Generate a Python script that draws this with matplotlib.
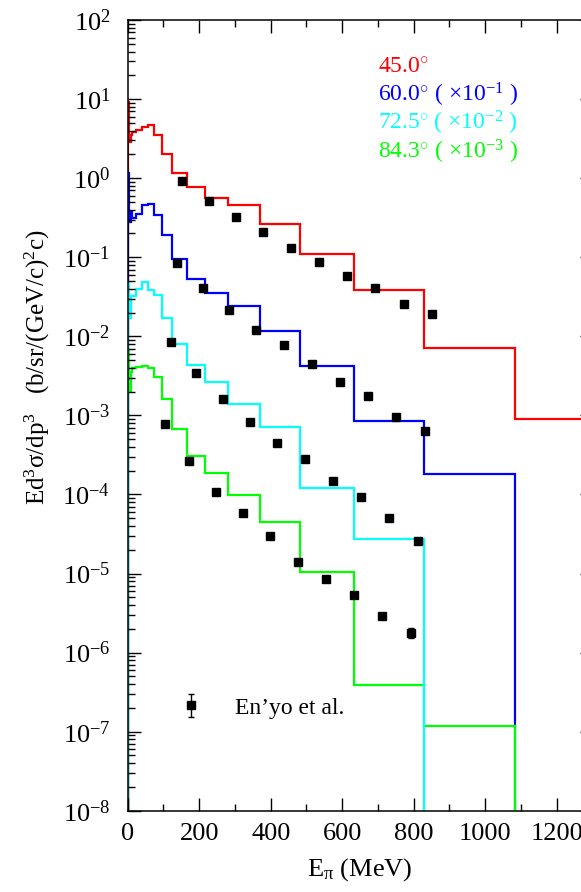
import numpy as np
from matplotlib import pyplot as plt
from matplotlib.ticker import MultipleLocator, LogLocator

plt.rcParams['font.family'] = ['Liberation Serif', 'DejaVu Serif']
plt.rcParams['mathtext.fontset'] = 'custom'
plt.rcParams['mathtext.rm'] = 'Liberation Serif'
plt.rcParams['mathtext.it'] = 'Liberation Serif:italic'
plt.rcParams['mathtext.bf'] = 'Liberation Serif:bold'

# границы бинов по кинетической энергии пиона, МэВ
edges = [0, 4, 8, 12, 24, 41, 57, 73, 95, 123, 165, 217, 281, 370, 483,
         633, 828, 1083, 1400]

# расчет (гистограммы), b/sr/(GeV/c)^2 c, без масштабных множителей
calc_45 = [9.2, 2.86, 3.5, 3.85, 4.05, 4.38, 4.69, 3.57, 2.0, 1.17, 0.776,
           0.563, 0.455, 0.262, 0.111, 0.039, 0.0071, 8.9e-4]
calc_60 = [11.5, 2.77, 3.7, 3.1, 3.5, 4.55, 4.69, 3.4, 1.90, 0.96, 0.537,
           0.353, 0.24, 0.116, 0.0417, 0.0084, 0.00179]
calc_72 = [4.83, 1.69, 3.2, 3.2, 3.94, 4.86, 3.82, 3.37, 1.73, 0.81, 0.44,
           0.264, 0.138, 0.071, 0.0119, 0.00272]
calc_84 = [6.65, 1.95, 3.5, 3.94, 4.05, 4.17, 3.94, 3.05, 1.61, 0.68, 0.305,
           0.185, 0.099, 0.0455, 0.0104, 3.9e-4, 1.17e-4]

# эксперимент En'yo et al.
exp_E_45 = [153, 227, 303, 379, 456, 535, 613, 693, 772, 851]
exp_45 = [0.916, 0.512, 0.324, 0.207, 0.131, 0.0859, 0.058, 0.0413,
          0.0256, 0.019]
exp_E_60 = [137, 210, 283, 358, 437, 516, 594, 673, 751, 832]
exp_60 = [0.847, 0.408, 0.213, 0.122, 0.0769, 0.0445, 0.0262, 0.0177,
          0.00944, 0.0064]
exp_E_72 = [120, 190, 266, 341, 418, 497, 574, 653, 732, 812]
exp_72 = [0.851, 0.343, 0.161, 0.0822, 0.0446, 0.0277, 0.0150, 0.0093,
          0.00507, 0.00256]
exp_E_84 = [104, 172, 247, 323, 398, 476, 555, 633, 712, 792]
exp_84 = [0.785, 0.262, 0.109, 0.058, 0.0296, 0.0139, 0.00845, 0.0053,
          0.00288, 0.00179]
err_84 = [0, 0, 0, 0, 0, 0, 0, 0, 0, 0.00025]

angles = ['45.0', '60.0', '72.5', '84.3']
scales = [1, 1e-1, 1e-2, 1e-3]
colors = ['#ff0000', '#0000ff', '#00ffff', '#00ff00']

fig = plt.figure(figsize=(5.81, 8.92), dpi=100)
ax = fig.add_axes([0.2198, 0.0911, 0.8000, 0.8864])
ax.set_yscale('log')

# гистограммы: порядок отрисовки 45, 60, 84.3, 72.5
calc = [calc_45, calc_60, calc_72, calc_84]
for i in [0, 1, 3, 2]:
    v = np.array(calc[i]) * scales[i]
    ax.stairs(v, edges[:len(v) + 1], baseline=1e-12,
              color=colors[i], lw=1.6)

exps = [(exp_E_45, exp_45, None), (exp_E_60, exp_60, None),
        (exp_E_72, exp_72, None), (exp_E_84, exp_84, err_84)]
handle = None
for i, (e, y, err) in enumerate(exps):
    y = np.array(y) * scales[i]
    yerr = None if err is None else np.array(err) * scales[i]
    h = ax.errorbar(e, y, yerr=yerr, fmt='s', color='black', ms=6,
                    capsize=2.5, elinewidth=1, capthick=1, zorder=5)
    if err is not None:
        handle = h

ax.set_xlim(0, 1300)
ax.set_ylim(1e-8, 1e2)
ax.xaxis.set_major_locator(MultipleLocator(200))
ax.xaxis.set_minor_locator(MultipleLocator(100))
ax.yaxis.set_major_locator(LogLocator(base=10, numticks=20))
ax.yaxis.set_minor_locator(LogLocator(base=10, subs=np.arange(2, 10),
                                      numticks=20))
ax.tick_params(which='both', direction='in', top=True, right=True,
               width=1, labelsize=19)
ax.tick_params(which='major', length=9.4)
ax.tick_params(which='minor', length=5)
ax.tick_params(axis='y', pad=12.5)
ax.tick_params(axis='x', pad=9)
for s in ax.spines.values():
    s.set_linewidth(1.1)

ax.set_xlabel('E$_{\\mathrm{π}}$ (MeV)', fontsize=19, labelpad=8)
fig.text(37 / 581, 1 - 367 / 892,
         'Ed$^3$σ/dp$^3$   (b/sr/(GeV/c)$^2$c)',
         rotation=90, ha='center', va='center', fontsize=18)

labels = ['45.0$^{\\circ}$',
          '60.0$^{\\circ}$ ( $\\times$10$^{-1}$ )',
          '72.5$^{\\circ}$ ( $\\times$10$^{-2}$ )',
          '84.3$^{\\circ}$ ( $\\times$10$^{-3}$ )']
for i, t in enumerate(labels):
    fig.text(377.7 / 581, 1 - (73.3 + 28.3 * i) / 892, t, color=colors[i],
             fontsize=17, va='baseline', ha='left')

ax.legend([handle], ['En’yo et al.'], loc='center left',
          bbox_to_anchor=(0.111, 0.130), frameon=False, fontsize=17,
          borderpad=0, borderaxespad=0, handlelength=1.0,
          handletextpad=1.36)

fig.savefig('out.png', dpi=100)
